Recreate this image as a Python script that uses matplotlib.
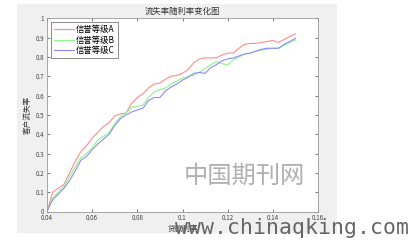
import matplotlib
matplotlib.use('agg')
import matplotlib.pyplot as plt
from matplotlib.patches import Rectangle

plt.rcParams['font.family'] = ['Noto Sans CJK SC', 'DejaVu Sans']

# loan rate (x) and churn rate for the three credit grades
rate = [0.040, 0.0425, 0.045, 0.0475, 0.050, 0.0525, 0.055, 0.0575, 0.060,
        0.0625, 0.065, 0.0675, 0.070, 0.0725, 0.075, 0.0775, 0.080, 0.0825,
        0.085, 0.0875, 0.090, 0.0925, 0.095, 0.0975, 0.100, 0.1025, 0.105,
        0.1075, 0.110, 0.1125, 0.115, 0.1175, 0.120, 0.1225, 0.125, 0.1275,
        0.130, 0.1325, 0.135, 0.1375, 0.140, 0.1425, 0.145, 0.1475, 0.150]
grade_a = [0, 0.10, 0.12, 0.14, 0.20, 0.26, 0.31, 0.34, 0.38, 0.41, 0.44,
           0.46, 0.495, 0.505, 0.51, 0.56, 0.59, 0.61, 0.64, 0.66, 0.665,
           0.685, 0.70, 0.705, 0.715, 0.735, 0.77, 0.79, 0.795, 0.795, 0.795,
           0.81, 0.82, 0.82, 0.845, 0.865, 0.87, 0.87, 0.875, 0.88, 0.885,
           0.875, 0.89, 0.905, 0.92]
grade_b = [0, 0.07, 0.10, 0.13, 0.18, 0.23, 0.28, 0.30, 0.33, 0.37, 0.39,
           0.41, 0.455, 0.49, 0.51, 0.54, 0.545, 0.55, 0.59, 0.62, 0.63,
           0.64, 0.66, 0.675, 0.69, 0.70, 0.705, 0.72, 0.74, 0.76, 0.775,
           0.765, 0.76, 0.785, 0.80, 0.815, 0.82, 0.83, 0.835, 0.84, 0.845,
           0.845, 0.86, 0.875, 0.888]
grade_c = [0, 0.06, 0.09, 0.12, 0.16, 0.21, 0.265, 0.285, 0.32, 0.35, 0.375,
           0.40, 0.445, 0.48, 0.50, 0.515, 0.525, 0.535, 0.575, 0.59, 0.59,
           0.625, 0.645, 0.66, 0.68, 0.695, 0.715, 0.72, 0.715, 0.745, 0.76,
           0.78, 0.79, 0.795, 0.805, 0.815, 0.82, 0.83, 0.84, 0.845, 0.845,
           0.845, 0.865, 0.88, 0.896]
labels = ['信誉等级A', '信誉等级B', '信誉等级C']
xticks = [0.04, 0.06, 0.08, 0.1, 0.12, 0.14, 0.16]
yticks = [0, 0.1, 0.2, 0.3, 0.4, 0.5, 0.6, 0.7, 0.8, 0.9, 1]

W, H = 409, 241
fig = plt.figure(figsize=(W / 100, H / 100), dpi=100)
fig.patch.set_facecolor('white')

# gray matlab figure panel
fig.patches.append(Rectangle((17 / W, 1 - 233 / H), 320 / W, 229 / H,
                             transform=fig.transFigure, facecolor='#f0f0f0',
                             edgecolor='none', zorder=0))

ax = fig.add_axes([47 / W, 1 - 211.5 / H, 271 / W, 193.2 / H])
ax.set_zorder(1)
ax.set_facecolor('white')
ax.plot(rate, grade_a, color='#ff8c8c', lw=0.8, label=labels[0])
ax.plot(rate, grade_b, color='#8cf58c', lw=0.8, label=labels[1])
ax.plot(rate, grade_c, color='#8c8cff', lw=0.8, label=labels[2])

ax.set_xlim(0.04, 0.16)
ax.set_ylim(0, 1)
ax.set_xticks(xticks)
ax.set_yticks(yticks)
ax.set_xticklabels(['0.04', '0.06', '0.08', '0.1', '0.12', '0.14', '0.16'])
ax.set_yticklabels(['0', '0.1', '0.2', '0.3', '0.4', '0.5', '0.6', '0.7',
                    '0.8', '0.9', '1'])
ax.tick_params(direction='in', top=True, right=True, length=2, width=0.5,
               labelsize=4.5, colors='#444444', pad=2)
for s in ax.spines.values():
    s.set_linewidth(0.6)
    s.set_color('#999999')

ax.set_title('流失率随利率变化图', fontsize=6, color='#333333', pad=3)
ax.set_ylabel('客户流失率', fontsize=5.5, color='#333333', labelpad=3)
ax.set_xlabel('贷款利率', fontsize=5.5, color='#333333', labelpad=2)

leg = ax.legend(loc='upper left', fontsize=6, handlelength=2.4,
                frameon=True, fancybox=False, borderpad=0.3,
                labelspacing=0.2, handletextpad=0.3,
                bbox_to_anchor=(0.0, 1.0))
leg.get_frame().set_edgecolor('#555555')
leg.get_frame().set_linewidth(0.6)

# watermark text
fig.text(244 / W, 1 - 176 / H, '中国期刊网', fontsize=17.5, color='#b0b0b0',
         ha='center', va='center', zorder=5)
fig.text(292 / W, 1 - 228 / H, 'www.chinaqking.com', fontsize=15.5,
         color='#666666', ha='center', va='center', family='DejaVu Sans Mono',
         zorder=5)

fig.savefig('out.png', dpi=100)
